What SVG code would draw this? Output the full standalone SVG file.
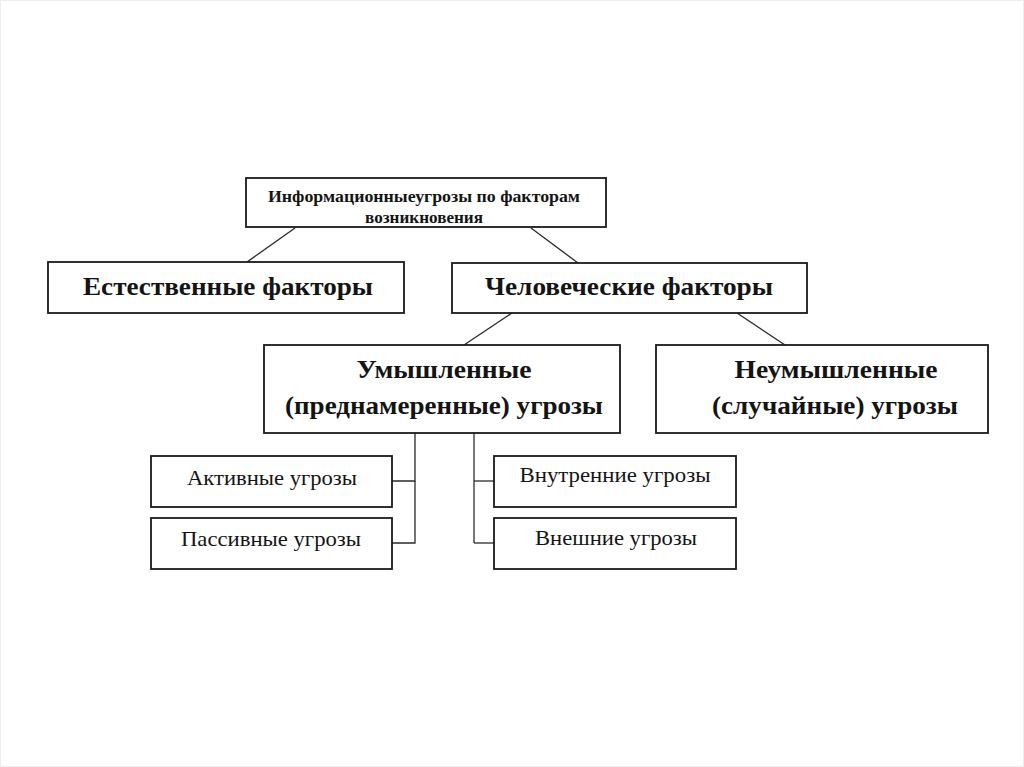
<svg xmlns="http://www.w3.org/2000/svg" width="1024" height="767" viewBox="0 0 1024 767">
<style>
.box{fill:#fff;stroke:#1a1a1a;stroke-width:1.8}
.t{font-family:"Liberation Serif","Times New Roman",serif;fill:#141414;text-anchor:middle}
.b{font-weight:bold}
.c{stroke:#2a2a2a;stroke-width:1.3;fill:none}
</style>
<rect x="0.5" y="0.5" width="1023" height="766" fill="#fff" stroke="#eeeeee"/>
<g id="connectors">
<line class="c" x1="295" y1="228" x2="247" y2="262"/>
<line class="c" x1="531" y1="228" x2="578" y2="263"/>
<line class="c" x1="512" y1="313" x2="464" y2="345"/>
<line class="c" x1="737" y1="313" x2="785" y2="345"/>
<polyline class="c" points="392,481 415,481 415,433"/>
<polyline class="c" points="392,543 415,543 415,481"/>
<line class="c" x1="474" y1="433" x2="474" y2="543" style="stroke:#777;stroke-width:2"/>
<line class="c" x1="474" y1="481" x2="494" y2="481"/>
<line class="c" x1="474" y1="543" x2="494" y2="543"/>
</g>
<g id="root">
<rect class="box" x="246" y="178" width="360" height="49"/>
<text class="t b" x="424" y="202" font-size="16" textLength="312" lengthAdjust="spacingAndGlyphs">Информационныеугрозы по факторам</text>
<text class="t b" x="424" y="223" font-size="16" textLength="118" lengthAdjust="spacingAndGlyphs">возникновения</text>
</g>
<g id="natural">
<rect class="box" x="48" y="262" width="356" height="51"/>
<text class="t b" x="228" y="295" font-size="26" textLength="290" lengthAdjust="spacingAndGlyphs">Естественные факторы</text>
</g>
<g id="human">
<rect class="box" x="452" y="263" width="355" height="50"/>
<text class="t b" x="629" y="295" font-size="26" textLength="288" lengthAdjust="spacingAndGlyphs">Человеческие факторы</text>
</g>
<g id="intentional">
<rect class="box" x="264" y="345" width="356" height="88"/>
<text class="t b" x="444" y="378" font-size="25" textLength="175" lengthAdjust="spacingAndGlyphs">Умышленные</text>
<text class="t b" x="444" y="414" font-size="25" textLength="318" lengthAdjust="spacingAndGlyphs">(преднамеренные) угрозы</text>
</g>
<g id="unintentional">
<rect class="box" x="656" y="345" width="332" height="88"/>
<text class="t b" x="836" y="378" font-size="25" textLength="203" lengthAdjust="spacingAndGlyphs">Неумышленные</text>
<text class="t b" x="835" y="414" font-size="25" textLength="246" lengthAdjust="spacingAndGlyphs">(случайные) угрозы</text>
</g>
<g id="active">
<rect class="box" x="151" y="456" width="241" height="51"/>
<text class="t" x="272" y="485" font-size="22" textLength="170" lengthAdjust="spacingAndGlyphs">Активные угрозы</text>
</g>
<g id="passive">
<rect class="box" x="151" y="518" width="241" height="51"/>
<text class="t" x="271" y="546" font-size="22" textLength="180" lengthAdjust="spacingAndGlyphs">Пассивные угрозы</text>
</g>
<g id="internal">
<rect class="box" x="494" y="456" width="242" height="51"/>
<text class="t" x="615" y="482" font-size="22" textLength="191" lengthAdjust="spacingAndGlyphs">Внутренние угрозы</text>
</g>
<g id="external">
<rect class="box" x="494" y="518" width="242" height="51"/>
<text class="t" x="616" y="545" font-size="22" textLength="162" lengthAdjust="spacingAndGlyphs">Внешние угрозы</text>
</g>
</svg>
